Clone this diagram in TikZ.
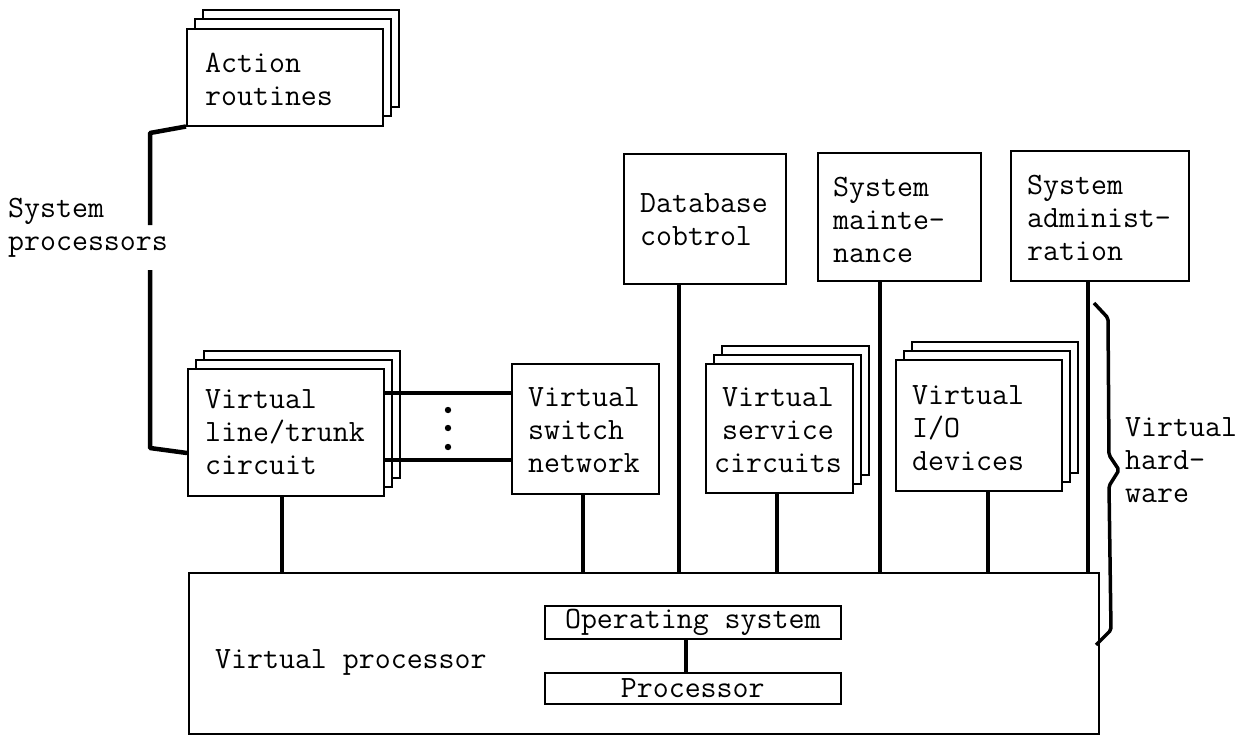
\documentclass[tikz,border=0pt]{standalone}
\usetikzlibrary{calc}
\newcommand\typefont{\fontsize{31}{33}\selectfont\ttfamily}
\begin{document}
\begin{tikzpicture}[x=1pt,y=-1pt,
  box/.style={draw, line width=1.5pt, fill=white, inner sep=0pt, anchor=north west},
  txt/.style={font=\typefont, inner sep=0pt, anchor=west, align=left},
  ctxt/.style={font=\typefont, inner sep=0pt, align=center},
  wire/.style={line width=3.5pt},
  bracket/.style={line width=4.5pt, line join=round},
  brace line/.style={line width=3.5pt, line join=round, rounded corners=2pt}]

\useasboundingbox[fill=white] (0,0) rectangle (1248,737);

% ---- Action routines (stacked) ----
\node[box, minimum width=196, minimum height=97] (act-c) at (186+16,28-19) {};
\node[box, minimum width=196, minimum height=97] (act-b) at (186+8,28-10) {};
\node[box, minimum width=196, minimum height=97] (act) at (186,28) {};
\node[txt] (act-t) at (205,79) {Action\\routines};

% ---- upper row of single boxes ----
\node[box, minimum width=162, minimum height=130] (db) at (623,153) {};
\node[txt] (db-t) at (640,220) {Database\\cobtrol};
\node[box, minimum width=163, minimum height=128] (sm) at (817,152) {};
\node[txt] (sm-t) at (833,220) {System\\mainte-\\nance};
\node[box, minimum width=178, minimum height=130] (sa) at (1010,150) {};
\node[txt] (sa-t) at (1027,218) {System\\administ-\\ration};

% ---- virtual hardware row ----
\node[box, minimum width=196, minimum height=127] (ltc-c) at (187+16,368-18) {};
\node[box, minimum width=196, minimum height=127] (ltc-b) at (187+8,368-9) {};
\node[box, minimum width=196, minimum height=127] (ltc) at (187,368) {};
\node[txt] (ltc-t) at (205,432) {Virtual\\line/trunk\\circuit};

\node[box, minimum width=147, minimum height=130] (sw) at (511,363) {};
\node[txt] (sw-t) at (528,430) {Virtual\\switch\\network};

\node[box, minimum width=147, minimum height=129] (vsc-c) at (705+16,363-18) {};
\node[box, minimum width=147, minimum height=129] (vsc-b) at (705+8,363-9) {};
\node[box, minimum width=147, minimum height=129] (vsc) at (705,363) {};
\node[ctxt] (vsc-t) at (778,430) {Virtual\\service\\circuits};

\node[box, minimum width=166, minimum height=131] (io-c) at (895+16,359-18) {};
\node[box, minimum width=166, minimum height=131] (io-b) at (895+8,359-9) {};
\node[box, minimum width=166, minimum height=131] (io) at (895,359) {};
\node[txt] (io-t) at (912,428) {Virtual\\I/O\\devices};

% ---- virtual processor ----
\node[box, minimum width=910, minimum height=161] (vp) at (188,572) {};
\node[txt] (vp-t) at (215,662) {Virtual processor};
\node[box, minimum width=296, minimum height=33] (os) at (544,605) {};
\node[ctxt] (os-t) at (os.center) {Operating system};
\node[box, minimum width=296, minimum height=31] (pr) at (544,672) {};
\node[ctxt] (pr-t) at (pr.center) {Processor};
\draw[wire] (os.south -| 686,0) -- (pr.north -| 686,0);

% ---- side labels ----
\node[txt] (sp-t) at (8,228) {System\\processors};
\node[txt] (vh-t) at (1125,460) {Virtual\\hard-\\ware};

% ---- system processors bracket ----
\coordinate (sp-a) at (150,133);
\coordinate (sp-b) at (150,225);
\coordinate (sp-c) at (150,270);
\coordinate (sp-d) at (150,448);
\coordinate (sp-e) at (187,453);
\draw[bracket] (act.south west) -- (sp-a) -- (sp-b);
\draw[bracket] (sp-c) -- (sp-d) -- (sp-e);

% ---- links between line/trunk circuits and switch network ----
\draw[wire] (ltc.east |- 0,393) -- (sw.west |- 0,393);
\draw[wire] (ltc.east |- 0,460) -- (sw.west |- 0,460);
\foreach \yy in {410,428,447} \fill (448,\yy) circle (3.2pt);

% ---- connections down to the virtual processor ----
\draw[wire] (ltc.south -| 282,0) -- (vp.north -| 282,0);
\draw[wire] (sw.south -| 583,0) -- (vp.north -| 583,0);
\draw[wire] (db.south -| 679,0) -- (vp.north -| 679,0);
\draw[wire] (vsc.south -| 777,0) -- (vp.north -| 777,0);
\draw[wire] (sm.south -| 880,0) -- (vp.north -| 880,0);
\draw[wire] (io.south -| 988,0) -- (vp.north -| 988,0);
\draw[wire] (sa.south -| 1088,0) -- (vp.north -| 1088,0);

% ---- virtual hardware brace ----
\draw[brace line] (1094,303) -- (1108,318) -- (1109,455) -- (1119,470)
  -- (1109,486) -- (1111,630) -- (1096,645);
\end{tikzpicture}
\end{document}
